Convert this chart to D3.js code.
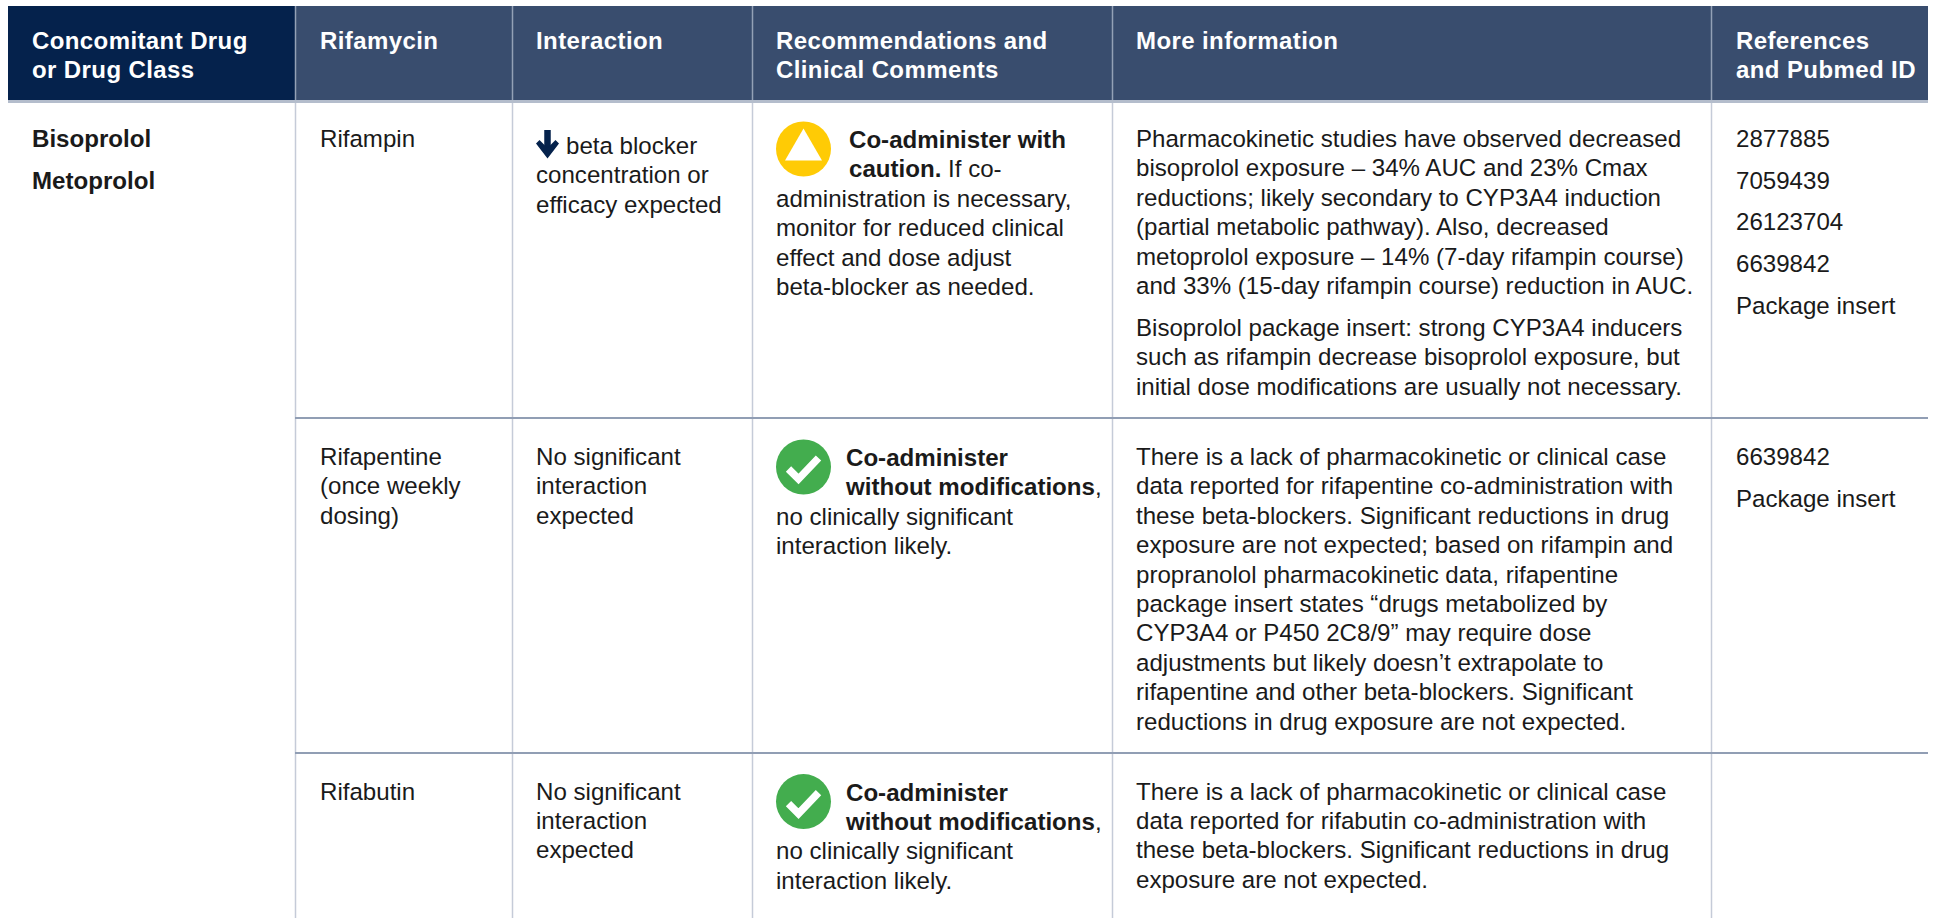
<!DOCTYPE html>
<html>
<head>
<meta charset="utf-8">
<script src="https://cdn.jsdelivr.net/npm/d3@7"></script>
<style>
  html, body { margin: 0; padding: 0; background: #fff; overflow: hidden; }
  text { font-family: "Liberation Sans", Arial, sans-serif; }
</style>
</head>
<body>
<script>
const WIDTH = 1933;
const HEIGHT = 918;
const TABLE_RIGHT = 1928;
const BODY_SIZE = 24.1;
const LINE = 29.4;
const PARA_GAP = 12.3;

const headers = [
  ['Concomitant Drug', 'or Drug Class'],
  ['Rifamycin'],
  ['Interaction'],
  ['Recommendations and', 'Clinical Comments'],
  ['More information'],
  ['References', 'and Pubmed ID']
];
const drugs = [['Bisoprolol'], ['Metoprolol']];
const rifamycins = [
  ['Rifampin'],
  ['Rifapentine', '(once weekly', 'dosing)'],
  ['Rifabutin']
];
const interactions = [
  ['beta blocker', 'concentration or', 'efficacy expected'],
  ['No significant', 'interaction', 'expected'],
  ['No significant', 'interaction', 'expected']
];
const recLevels = ['caution', 'ok', 'ok'];
const recBold = [
  ['Co-administer with', 'caution.'],
  ['Co-administer', 'without modifications'],
  ['Co-administer', 'without modifications']
];
const recTail = [
  [' If co-', 'administration is necessary,', 'monitor for reduced clinical', 'effect and dose adjust', 'beta-blocker as needed.'],
  [',', 'no clinically significant', 'interaction likely.'],
  [',', 'no clinically significant', 'interaction likely.']
];
const moreInfo = [
  [
    ['Pharmacokinetic studies have observed decreased',
     'bisoprolol exposure \u2013 34% AUC and 23% Cmax',
     'reductions; likely secondary to CYP3A4 induction',
     '(partial metabolic pathway). Also, decreased',
     'metoprolol exposure \u2013 14% (7-day rifampin course)',
     'and 33% (15-day rifampin course) reduction in AUC.'],
    ['Bisoprolol package insert: strong CYP3A4 inducers',
     'such as rifampin decrease bisoprolol exposure, but',
     'initial dose modifications are usually not necessary.']
  ],
  [
    ['There is a lack of pharmacokinetic or clinical case',
     'data reported for rifapentine co-administration with',
     'these beta-blockers. Significant reductions in drug',
     'exposure are not expected; based on rifampin and',
     'propranolol pharmacokinetic data, rifapentine',
     'package insert states \u201cdrugs metabolized by',
     'CYP3A4 or P450 2C8/9\u201d may require dose',
     'adjustments but likely doesn\u2019t extrapolate to',
     'rifapentine and other beta-blockers. Significant',
     'reductions in drug exposure are not expected.']
  ],
  [
    ['There is a lack of pharmacokinetic or clinical case',
     'data reported for rifabutin co-administration with',
     'these beta-blockers. Significant reductions in drug',
     'exposure are not expected.']
  ]
];
const references = [
  [['2877885'], ['7059439'], ['26123704'], ['6639842'], ['Package insert']],
  [['6639842'], ['Package insert']],
  []
];

// table geometry
const columnKeys = d3.range(headers.length);
const colEdge = d3.scaleOrdinal().domain(columnKeys.concat(6)).range([8, 295, 512, 752, 1112, 1711, TABLE_RIGHT]);
const colText = d3.scaleOrdinal().domain(columnKeys).range([32, 320, 536, 776, 1136, 1736]);
const rowKeys = d3.range(rifamycins.length);
const rowTop = d3.scaleOrdinal().domain(rowKeys.concat(3)).range([103, 418, 753, HEIGHT]);
const rowBaseline = d3.scaleOrdinal().domain(rowKeys).range([147, 465, 799.6]);

const svg = d3.select('body').append('svg')
  .attr('width', WIDTH)
  .attr('height', HEIGHT)
  .style('display', 'block');

// header band
svg.selectAll('rect.head')
  .data(columnKeys)
  .enter()
  .append('rect')
  .attr('class', 'head')
  .attr('x', d => colEdge(d))
  .attr('y', 6)
  .attr('width', d => colEdge(d + 1) - colEdge(d))
  .attr('height', 94)
  .attr('fill', d => d === 0 ? '#05224c' : '#394d6e');

svg.append('rect')
  .attr('x', 8).attr('y', 100)
  .attr('width', TABLE_RIGHT - 8).attr('height', 3)
  .attr('fill', '#b4bdcc');

// vertical rules
svg.selectAll('line.headrule')
  .data(columnKeys.slice(1))
  .enter()
  .append('line')
  .attr('class', 'headrule')
  .attr('x1', d => colEdge(d) + 0.5).attr('x2', d => colEdge(d) + 0.5)
  .attr('y1', 6).attr('y2', 100)
  .attr('stroke', '#94a1b6')
  .attr('stroke-width', 1.5);

svg.selectAll('line.rule')
  .data(columnKeys.slice(1))
  .enter()
  .append('line')
  .attr('class', 'rule')
  .attr('x1', d => colEdge(d) + 0.5).attr('x2', d => colEdge(d) + 0.5)
  .attr('y1', 103).attr('y2', HEIGHT)
  .attr('stroke', '#c5cbd8')
  .attr('stroke-width', 1.5);

// row rules, they start after the drug column
svg.selectAll('line.rowrule')
  .data([1, 2])
  .enter()
  .append('line')
  .attr('class', 'rowrule')
  .attr('x1', colEdge(1)).attr('x2', TABLE_RIGHT)
  .attr('y1', d => rowTop(d)).attr('y2', d => rowTop(d))
  .attr('stroke', '#919eb4')
  .attr('stroke-width', 2);

function addLine(x, y, str, bold, fill, size) {
  return svg.append('text')
    .attr('x', x)
    .attr('y', y)
    .attr('font-size', size || BODY_SIZE)
    .attr('font-weight', bold ? 700 : 400)
    .attr('fill', fill || '#1a1a1a')
    .attr('xml:space', 'preserve')
    .text(str);
}

function addParagraphs(x, y, paragraphs, bold) {
  let cursor = y;
  paragraphs.forEach(p => {
    p.forEach(line => {
      addLine(x, cursor, line, bold);
      cursor += LINE;
    });
    cursor += PARA_GAP;
  });
}

// header text
headers.forEach((lines, c) => {
  lines.forEach((line, i) => {
    addLine(colText(c), 49 + i * 29, line, true, '#ffffff', 24)
      .attr('letter-spacing', 0.4);
  });
});

// first column spans all the rows
addParagraphs(colText(0), rowBaseline(0), drugs, true);

function cautionIcon(g) {
  g.append('circle').attr('r', 27.5).attr('fill', '#ffcb05');
  g.append('path').attr('d', 'M0,-20.5L18.5,11.5L-18.5,11.5Z').attr('fill', '#fff');
}

function okIcon(g) {
  g.append('circle').attr('r', 27.5).attr('fill', '#43ad4e');
  g.append('path')
    .attr('d', 'M-15,2L-5,12L15,-9')
    .attr('fill', 'none')
    .attr('stroke', '#fff')
    .attr('stroke-width', 7.5);
}

rowKeys.forEach(r => {
  const base = rowBaseline(r);

  addParagraphs(colText(1), base, [rifamycins[r]]);

  // interaction, the first row leads with an arrow
  if (r === 0) {
    const g = svg.append('g').attr('transform', `translate(${colText(2) + 11.5},130)`);
    g.append('path')
      .attr('d', 'M0,0V22')
      .attr('fill', 'none')
      .attr('stroke', '#05224c')
      .attr('stroke-width', 6.5);
    g.append('path')
      .attr('d', 'M-11.5,13.5L-8,10L0,18L8,10L11.5,13.5L0,28.5Z')
      .attr('fill', '#05224c');
    addLine(colText(2) + 30, base + 7, interactions[r][0]);
    interactions[r].slice(1).forEach((line, i) => {
      addLine(colText(2), base + 7 + (i + 1) * LINE, line);
    });
  } else {
    addParagraphs(colText(2), base, [interactions[r]]);
  }

  // recommendation with its icon
  const icon = svg.append('g')
    .attr('transform', `translate(${colText(3) + 27.5},${base + 2})`);
  if (recLevels[r] === 'caution') cautionIcon(icon); else okIcon(icon);

  const boldX = colText(3) + (recLevels[r] === 'caution' ? 73 : 70);
  addLine(boldX, base + 1, recBold[r][0], true);
  const second = addLine(boldX, base + 1 + LINE, recBold[r][1], true);
  second.append('tspan').attr('font-weight', 400).text(recTail[r][0]);
  recTail[r].slice(1).forEach((line, i) => {
    addLine(colText(3), base + 1 + (i + 2) * LINE, line);
  });

  addParagraphs(colText(4), base, moreInfo[r]);
  addParagraphs(colText(5), base, references[r]);
});
</script>
</body>
</html>
